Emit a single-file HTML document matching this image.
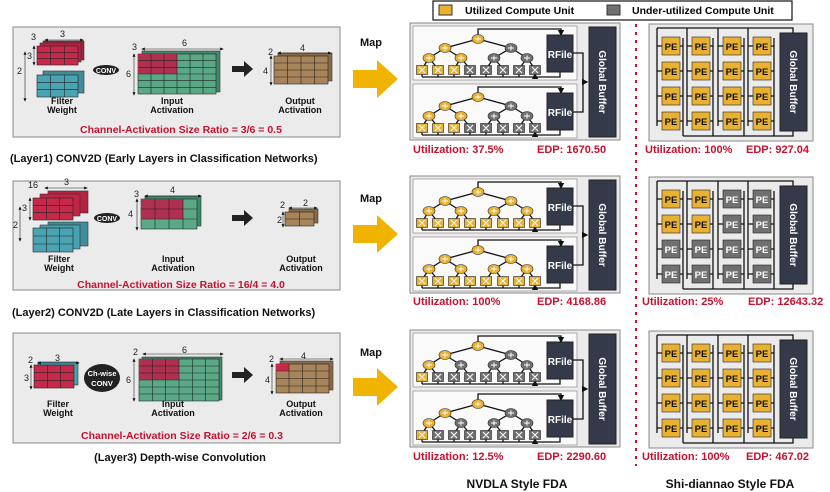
<!DOCTYPE html>
<html><head><meta charset="utf-8"><style>
html,body{margin:0;padding:0;background:#fff}
svg{display:block}
text{font-family:"Liberation Sans",sans-serif;font-weight:bold}
.lb{font-size:9px;fill:#111}
.dim{font-size:9px;fill:#222;font-weight:normal}
.red{font-size:10.5px;fill:#c41230}
.cap{font-size:11px;fill:#111}
.util{font-size:11px;fill:#c41230}
.gb{font-size:10px;fill:#fff}
.pe{font-size:9.5px;fill:#111}
.y{fill:#e9b132;stroke:#222;stroke-width:.6}
.g{fill:#707070;stroke:#222;stroke-width:.6}
.w{stroke:#111;stroke-width:1.3;fill:none}
.gr{stroke:#222;stroke-width:.6;fill:none}
</style></head><body>
<svg width="830" height="492" viewBox="0 0 830 492" xmlns="http://www.w3.org/2000/svg">
<defs>
<marker id="ah" markerWidth="5" markerHeight="5" refX="4" refY="2.5" orient="auto"><path d="M0,0L5,2.5L0,5z" fill="#111"/></marker>
<marker id="dh" markerWidth="6" markerHeight="6" refX="3" refY="3" orient="auto-start-reverse"><path d="M0,0.5L6,3L0,5.5z" fill="#111"/></marker>
<g id="tree">
 <rect x="0" y="0" width="164" height="54" fill="#fafafa" stroke="#999" stroke-width=".8"/>
 <path class="w" d="M65,13V3H148V9" marker-end="url(#ah)"/>
 <path class="w" d="M147,46V51H9"/>
 <g class="w" stroke-width="1">
  <path d="M9,51V48M25,51V48M41,51V48M57,51V48M73,51V48M90,51V48M106,51V48M122,51V48" marker-end="url(#ah)"/>
  <path d="M9,43L16,32M25,43L16,32M41,43L48,32M57,43L48,32M73,43L81,32M90,43L81,32M106,43L114,32M122,43L114,32"/>
  <path d="M16,32L32,22M48,32L32,22M81,32L98,22M114,32L98,22M32,22L65,13M98,22L65,13"/>
 </g>
 <rect x="134" y="9" width="26" height="37" fill="#353a4a" stroke="#222"/>
</g>
<g id="xs" stroke="#fff" stroke-width="1.1">
 <path d="M6,41L12,47M12,41L6,47M22,41L28,47M28,41L22,47M38,41L44,47M44,41L38,47M54,41L60,47M60,41L54,47M70,41L76,47M76,41L70,47M87,41L93,47M93,41L87,47M103,41L109,47M109,41L103,47M119,41L125,47M125,41L119,47"/>
</g>
<g id="pl" stroke="#fff" stroke-width="1">
 <path d="M13,32h6M16,29.5v5M45,32h6M48,29.5v5M78,32h6M81,29.5v5M111,32h6M114,29.5v5M29,22h6M32,19.5v5M95,22h6M98,19.5v5M62,13h6M65,10.5v5"/>
</g>
<g id="sd">
 <rect x="0" y="0" width="164" height="117" fill="#ebebeb" stroke="#888"/>
 <path class="w" d="M8,4H144V9M8,4V102M38,4V102M69,4V102M99,4V102"/>
 <path class="w" d="M34,14V112M64,14V112M95,14V112M125,14V112M34,112H144V107"/>
 <path class="w" d="M8,22h5M8,47h5M8,72h5M8,97h5M38,22h5M38,47h5M38,72h5M38,97h5M69,22h5M69,47h5M69,72h5M69,97h5M99,22h5M99,47h5M99,72h5M99,97h5"/>
 <path class="w" d="M31,22h3M31,47h3M31,72h3M31,97h3M61,22h3M61,47h3M61,72h3M61,97h3M92,22h3M92,47h3M92,72h3M92,97h3M122,22h3M122,47h3M122,72h3M122,97h3"/>
 <rect x="131" y="9" width="27" height="98" fill="#353a4a" stroke="#222"/>
</g>
</defs>

<!-- legend -->
<rect x="433" y="1" width="359" height="19" fill="#fff" stroke="#111" stroke-width="1.2"/>
<rect x="439" y="5" width="13" height="10" fill="#e9b132" stroke="#333"/>
<text x="465" y="14" style="font-size:10.5px">Utilized Compute Unit</text>
<rect x="607" y="5" width="13" height="10" fill="#707070" stroke="#333"/>
<text x="632" y="14" style="font-size:10.5px">Under-utilized Compute Unit</text>

<!-- red dotted divider -->
<line x1="636" y1="24" x2="636" y2="466" stroke="#c41230" stroke-width="2" stroke-dasharray="3,5"/>

<!-- ================= LEFT PANELS ================= -->
<!-- Layer1 -->
<rect x="13" y="27" width="327" height="110" fill="#ebebeb" stroke="#888"/>
<rect x="43" y="41" width="41" height="19" fill="#a81f3c" stroke="#333" stroke-width=".6"/>
<rect x="40" y="43" width="41" height="19" fill="#b82242" stroke="#333" stroke-width=".6"/>
<rect x="37" y="46" width="41" height="19" fill="#c8284a" stroke="#222" stroke-width=".6"/>
<path class="gr" d="M50.7,46V65M64.3,46V65M37,52.3H78M37,58.6H78"/>
<rect x="43" y="71" width="41" height="22" fill="#3f8c9a" stroke="#333" stroke-width=".6"/>
<rect x="37" y="75" width="41" height="22" fill="#4aa3b2" stroke="#222" stroke-width=".6"/>
<path class="gr" d="M50.7,75V97M64.3,75V97M37,82.3H78M37,89.6H78"/>
<text x="31" y="40" class="dim">3</text><text x="60" y="37" class="dim">3</text>
<path class="gr" d="M46,40H82" marker-start="url(#dh)" marker-end="url(#dh)"/>
<text x="27" y="59" class="dim">3</text>
<path class="gr" d="M34,47V64" marker-start="url(#dh)" marker-end="url(#dh)"/>
<text x="17" y="74" class="dim">2</text>
<path class="gr" d="M25,53V100" marker-start="url(#dh)" marker-end="url(#dh)"/>
<ellipse cx="106" cy="70" rx="13" ry="5" fill="#222"/>
<text x="106" y="73" text-anchor="middle" style="font-size:7px;fill:#fff">CONV</text>
<rect x="142" y="51" width="78" height="41" fill="#3c8a6a" stroke="#333" stroke-width=".6"/>
<rect x="138" y="54" width="78" height="40" fill="#5aa886" stroke="#222" stroke-width=".6"/>
<rect x="138" y="54" width="39" height="20" fill="#b03050"/>
<path class="gr" d="M151,54V94M164,54V94M177,54V94M190,54V94M203,54V94M138,60.7H216M138,67.3H216M138,74H216M138,80.7H216M138,87.3H216"/>
<text x="132" y="50" class="dim">3</text><text x="182" y="46" class="dim">6</text>
<path class="gr" d="M143,49H222" marker-start="url(#dh)" marker-end="url(#dh)"/>
<text x="126" y="77" class="dim">6</text>
<path class="gr" d="M134,55V94" marker-start="url(#dh)" marker-end="url(#dh)"/>
<path d="M232,66h12v-5l9,8l-9,8v-5h-12z" fill="#222"/>
<rect x="278" y="53" width="54" height="28" fill="#8a6a45" stroke="#333" stroke-width=".6"/>
<rect x="274" y="56" width="54" height="28" fill="#a7845a" stroke="#222" stroke-width=".6"/>
<path class="gr" d="M287.5,56V84M301,56V84M314.5,56V84M274,63H328M274,70H328M274,77H328"/>
<text x="268" y="55" class="dim">2</text><text x="300" y="51" class="dim">4</text>
<path class="gr" d="M279,53H330" marker-start="url(#dh)" marker-end="url(#dh)"/>
<text x="263" y="74" class="dim">4</text>
<path class="gr" d="M271,57V84" marker-start="url(#dh)" marker-end="url(#dh)"/>
<text x="62" y="104" class="lb" text-anchor="middle">Filter</text><text x="62" y="113" class="lb" text-anchor="middle">Weight</text>
<text x="172" y="104" class="lb" text-anchor="middle">Input</text><text x="172" y="113" class="lb" text-anchor="middle">Activation</text>
<text x="300" y="104" class="lb" text-anchor="middle">Output</text><text x="300" y="113" class="lb" text-anchor="middle">Activation</text>
<text x="181" y="133" class="red" text-anchor="middle">Channel-Activation Size Ratio = 3/6 =  0.5</text>
<text x="10" y="162" class="cap">(Layer1) CONV2D (Early Layers in Classification Networks)</text>

<!-- Layer2 -->
<rect x="13" y="181" width="327" height="109" fill="#ebebeb" stroke="#888"/>
<rect x="48" y="191" width="40" height="22" fill="#b82242" stroke="#333" stroke-width=".6"/>
<rect x="40" y="194" width="40" height="22" fill="#c02546" stroke="#333" stroke-width=".6"/>
<rect x="33" y="198" width="40" height="22" fill="#c8284a" stroke="#222" stroke-width=".6"/>
<path class="gr" d="M46.3,198V220M59.6,198V220M33,205.3H73M33,212.6H73"/>
<rect x="48" y="222" width="40" height="24" fill="#3f8c9a" stroke="#333" stroke-width=".6"/>
<rect x="40" y="225" width="40" height="24" fill="#46a0ae" stroke="#333" stroke-width=".6"/>
<rect x="33" y="228" width="40" height="24" fill="#4aa3b2" stroke="#222" stroke-width=".6"/>
<path class="gr" d="M46.3,228V252M59.6,228V252M33,236H73M33,244H73"/>
<text x="28" y="188" class="dim">16</text><text x="64" y="185" class="dim">3</text>
<path class="gr" d="M46,188H86" marker-start="url(#dh)" marker-end="url(#dh)"/>
<text x="22" y="211" class="dim">3</text>
<path class="gr" d="M30,199V219" marker-start="url(#dh)" marker-end="url(#dh)"/>
<text x="13" y="228" class="dim">2</text>
<path class="gr" d="M20,208V240" marker-start="url(#dh)" marker-end="url(#dh)"/>
<ellipse cx="107" cy="218" rx="13" ry="5" fill="#222"/>
<text x="107" y="221" text-anchor="middle" style="font-size:7px;fill:#fff">CONV</text>
<rect x="145" y="196" width="56" height="30" fill="#3c8a6a" stroke="#333" stroke-width=".6"/>
<rect x="141" y="199" width="56" height="30" fill="#5aa886" stroke="#222" stroke-width=".6"/>
<rect x="141" y="199" width="42" height="20" fill="#b03050"/>
<path class="gr" d="M155,199V229M169,199V229M183,199V229M141,209H197M141,219H197"/>
<text x="134" y="197" class="dim">3</text><text x="170" y="193" class="dim">4</text>
<path class="gr" d="M146,196H200" marker-start="url(#dh)" marker-end="url(#dh)"/>
<text x="128" y="217" class="dim">4</text>
<path class="gr" d="M137,200V229" marker-start="url(#dh)" marker-end="url(#dh)"/>
<path d="M232,215h12v-5l9,8l-9,8v-5h-12z" fill="#222"/>
<rect x="289" y="209" width="29" height="14" fill="#8a6a45" stroke="#333" stroke-width=".6"/>
<rect x="285" y="212" width="29" height="14" fill="#a7845a" stroke="#222" stroke-width=".6"/>
<path class="gr" d="M299.5,212V226M285,219H314"/>
<text x="280" y="208" class="dim">2</text><text x="303" y="206" class="dim">2</text>
<path class="gr" d="M290,208H316" marker-start="url(#dh)" marker-end="url(#dh)"/>
<text x="277" y="223" class="dim">2</text>
<path class="gr" d="M283,213V226" marker-start="url(#dh)" marker-end="url(#dh)"/>
<text x="59" y="262" class="lb" text-anchor="middle">Filter</text><text x="59" y="271" class="lb" text-anchor="middle">Weight</text>
<text x="173" y="262" class="lb" text-anchor="middle">Input</text><text x="173" y="271" class="lb" text-anchor="middle">Activation</text>
<text x="301" y="262" class="lb" text-anchor="middle">Output</text><text x="301" y="271" class="lb" text-anchor="middle">Activation</text>
<text x="181" y="288" class="red" text-anchor="middle">Channel-Activation Size Ratio = 16/4 = 4.0</text>
<text x="12" y="316" class="cap">(Layer2) CONV2D (Late Layers in Classification Networks)</text>

<!-- Layer3 -->
<rect x="13" y="333" width="327" height="110" fill="#ebebeb" stroke="#888"/>
<rect x="38" y="362" width="40" height="23" fill="#4aa3b2" stroke="#333" stroke-width=".6"/>
<rect x="34" y="365" width="40" height="23" fill="#c8284a" stroke="#222" stroke-width=".6"/>
<path class="gr" d="M47.3,365V388M60.6,365V388M34,372.6H74M34,380.3H74"/>
<text x="28" y="363" class="dim">2</text><text x="55" y="361" class="dim">3</text>
<path class="gr" d="M39,363H78" marker-start="url(#dh)" marker-end="url(#dh)"/>
<text x="24" y="381" class="dim">3</text>
<path class="gr" d="M31,366V388" marker-start="url(#dh)" marker-end="url(#dh)"/>
<ellipse cx="102" cy="378" rx="18" ry="14" fill="#222"/>
<text x="102" y="376" text-anchor="middle" style="font-size:7.5px;fill:#fff">Ch-wise</text>
<text x="102" y="386" text-anchor="middle" style="font-size:7.5px;fill:#fff">CONV</text>
<rect x="142" y="357" width="80" height="43" fill="#3c8a6a" stroke="#333" stroke-width=".6"/>
<rect x="139" y="359" width="80" height="42" fill="#5aa886" stroke="#222" stroke-width=".6"/>
<rect x="139" y="359" width="40" height="21" fill="#b03050"/>
<path class="gr" d="M152.3,359V401M165.6,359V401M179,359V401M192.3,359V401M205.6,359V401M139,366H219M139,373H219M139,380H219M139,387H219M139,394H219"/>
<text x="133" y="355" class="dim">2</text><text x="182" y="353" class="dim">6</text>
<path class="gr" d="M144,354H222" marker-start="url(#dh)" marker-end="url(#dh)"/>
<text x="126" y="383" class="dim">6</text>
<path class="gr" d="M134,360V400" marker-start="url(#dh)" marker-end="url(#dh)"/>
<path d="M232,372h12v-5l9,8l-9,8v-5h-12z" fill="#222"/>
<rect x="280" y="361" width="53" height="29" fill="#8a6a45" stroke="#333" stroke-width=".6"/>
<rect x="276" y="364" width="53" height="29" fill="#a7845a" stroke="#222" stroke-width=".6"/>
<rect x="276" y="364" width="13" height="7" fill="#c8284a"/>
<path class="gr" d="M289,364V393M302.5,364V393M316,364V393M276,371H329M276,378.5H329M276,386H329"/>
<text x="269" y="362" class="dim">2</text><text x="301" y="359" class="dim">4</text>
<path class="gr" d="M281,359H332" marker-start="url(#dh)" marker-end="url(#dh)"/>
<text x="265" y="383" class="dim">4</text>
<path class="gr" d="M272,365V393" marker-start="url(#dh)" marker-end="url(#dh)"/>
<text x="58" y="407" class="lb" text-anchor="middle">Filter</text><text x="58" y="416" class="lb" text-anchor="middle">Weight</text>
<text x="173" y="407" class="lb" text-anchor="middle">Input</text><text x="173" y="416" class="lb" text-anchor="middle">Activation</text>
<text x="301" y="407" class="lb" text-anchor="middle">Output</text><text x="301" y="416" class="lb" text-anchor="middle">Activation</text>
<text x="182" y="439" class="red" text-anchor="middle">Channel-Activation Size Ratio = 2/6 = 0.3</text>
<text x="180" y="461" class="cap" text-anchor="middle">(Layer3) Depth-wise Convolution</text>

<!-- Map arrows -->
<text x="360" y="46" class="cap">Map</text>
<text x="360" y="202" class="cap">Map</text>
<text x="360" y="356" class="cap">Map</text>
<path d="M353,70h24v-10l21,19l-21,19v-10h-24z" fill="#f0b400"/>
<path d="M353,225h24v-10l21,19l-21,19v-10h-24z" fill="#f0b400"/>
<path d="M353,378h24v-10l21,19l-21,19v-10h-24z" fill="#f0b400"/>

<!-- ================= NVDLA ================= -->
<g>
 <rect x="410" y="23" width="210" height="117" fill="#ebebeb" stroke="#888"/>
 <use href="#tree" x="413" y="26"/>
 <use href="#tree" x="413" y="84"/>
 <path class="w" d="M573,53H583V112H573M583,82H587" marker-end="url(#ah)"/>
 <rect x="589" y="27" width="27" height="110" fill="#353a4a" stroke="#222"/>
</g>
<g transform="translate(0,153)">
 <rect x="410" y="23" width="210" height="117" fill="#ebebeb" stroke="#888"/>
 <use href="#tree" x="413" y="26"/>
 <use href="#tree" x="413" y="84"/>
 <path class="w" d="M573,53H583V112H573M583,82H587" marker-end="url(#ah)"/>
 <rect x="589" y="27" width="27" height="110" fill="#353a4a" stroke="#222"/>
</g>
<g transform="translate(0,307)">
 <rect x="410" y="23" width="210" height="117" fill="#ebebeb" stroke="#888"/>
 <use href="#tree" x="413" y="26"/>
 <use href="#tree" x="413" y="84"/>
 <path class="w" d="M573,53H583V112H573M583,82H587" marker-end="url(#ah)"/>
 <rect x="589" y="27" width="27" height="110" fill="#353a4a" stroke="#222"/>
</g>
<text x="560" y="58" class="gb" text-anchor="middle">RFile</text>
<text x="560" y="116" class="gb" text-anchor="middle">RFile</text>
<text x="560" y="211" class="gb" text-anchor="middle">RFile</text>
<text x="560" y="269" class="gb" text-anchor="middle">RFile</text>
<text x="560" y="365" class="gb" text-anchor="middle">RFile</text>
<text x="560" y="423" class="gb" text-anchor="middle">RFile</text>
<text transform="translate(599,82) rotate(90)" class="gb" text-anchor="middle">Global Buffer</text>
<text transform="translate(599,235) rotate(90)" class="gb" text-anchor="middle">Global Buffer</text>
<text transform="translate(599,389) rotate(90)" class="gb" text-anchor="middle">Global Buffer</text>

<g transform="translate(413,26)">
 <rect class="y" x="3.5" y="39.5" width="11" height="9"/><rect class="y" x="19.5" y="39.5" width="11" height="9"/><rect class="y" x="35.5" y="39.5" width="11" height="9"/><rect class="g" x="51.5" y="39.5" width="11" height="9"/><rect class="g" x="67.5" y="39.5" width="11" height="9"/><rect class="g" x="84.5" y="39.5" width="11" height="9"/><rect class="g" x="100.5" y="39.5" width="11" height="9"/><rect class="g" x="116.5" y="39.5" width="11" height="9"/>
 <use href="#xs"/>
 <ellipse class="y" cx="16" cy="32" rx="6" ry="4.5"/><ellipse class="y" cx="48" cy="32" rx="6" ry="4.5"/><ellipse class="g" cx="81" cy="32" rx="6" ry="4.5"/><ellipse class="g" cx="114" cy="32" rx="6" ry="4.5"/>
 <ellipse class="y" cx="32" cy="22" rx="6" ry="4.5"/><ellipse class="g" cx="98" cy="22" rx="6" ry="4.5"/><ellipse class="y" cx="65" cy="13" rx="6" ry="4.5"/>
 <use href="#pl"/>
</g>
<g transform="translate(413,84)">
 <rect class="y" x="3.5" y="39.5" width="11" height="9"/><rect class="y" x="19.5" y="39.5" width="11" height="9"/><rect class="y" x="35.5" y="39.5" width="11" height="9"/><rect class="g" x="51.5" y="39.5" width="11" height="9"/><rect class="g" x="67.5" y="39.5" width="11" height="9"/><rect class="g" x="84.5" y="39.5" width="11" height="9"/><rect class="g" x="100.5" y="39.5" width="11" height="9"/><rect class="g" x="116.5" y="39.5" width="11" height="9"/>
 <use href="#xs"/>
 <ellipse class="y" cx="16" cy="32" rx="6" ry="4.5"/><ellipse class="y" cx="48" cy="32" rx="6" ry="4.5"/><ellipse class="g" cx="81" cy="32" rx="6" ry="4.5"/><ellipse class="g" cx="114" cy="32" rx="6" ry="4.5"/>
 <ellipse class="y" cx="32" cy="22" rx="6" ry="4.5"/><ellipse class="g" cx="98" cy="22" rx="6" ry="4.5"/><ellipse class="y" cx="65" cy="13" rx="6" ry="4.5"/>
 <use href="#pl"/>
</g>
<g transform="translate(413,179)">
 <rect class="y" x="3.5" y="39.5" width="11" height="9"/><rect class="y" x="19.5" y="39.5" width="11" height="9"/><rect class="y" x="35.5" y="39.5" width="11" height="9"/><rect class="y" x="51.5" y="39.5" width="11" height="9"/><rect class="y" x="67.5" y="39.5" width="11" height="9"/><rect class="y" x="84.5" y="39.5" width="11" height="9"/><rect class="y" x="100.5" y="39.5" width="11" height="9"/><rect class="y" x="116.5" y="39.5" width="11" height="9"/>
 <use href="#xs"/>
 <ellipse class="y" cx="16" cy="32" rx="6" ry="4.5"/><ellipse class="y" cx="48" cy="32" rx="6" ry="4.5"/><ellipse class="y" cx="81" cy="32" rx="6" ry="4.5"/><ellipse class="y" cx="114" cy="32" rx="6" ry="4.5"/>
 <ellipse class="y" cx="32" cy="22" rx="6" ry="4.5"/><ellipse class="y" cx="98" cy="22" rx="6" ry="4.5"/><ellipse class="y" cx="65" cy="13" rx="6" ry="4.5"/>
 <use href="#pl"/>
</g>
<g transform="translate(413,237)">
 <rect class="y" x="3.5" y="39.5" width="11" height="9"/><rect class="y" x="19.5" y="39.5" width="11" height="9"/><rect class="y" x="35.5" y="39.5" width="11" height="9"/><rect class="y" x="51.5" y="39.5" width="11" height="9"/><rect class="y" x="67.5" y="39.5" width="11" height="9"/><rect class="y" x="84.5" y="39.5" width="11" height="9"/><rect class="y" x="100.5" y="39.5" width="11" height="9"/><rect class="y" x="116.5" y="39.5" width="11" height="9"/>
 <use href="#xs"/>
 <ellipse class="y" cx="16" cy="32" rx="6" ry="4.5"/><ellipse class="y" cx="48" cy="32" rx="6" ry="4.5"/><ellipse class="y" cx="81" cy="32" rx="6" ry="4.5"/><ellipse class="y" cx="114" cy="32" rx="6" ry="4.5"/>
 <ellipse class="y" cx="32" cy="22" rx="6" ry="4.5"/><ellipse class="y" cx="98" cy="22" rx="6" ry="4.5"/><ellipse class="y" cx="65" cy="13" rx="6" ry="4.5"/>
 <use href="#pl"/>
</g>
<g transform="translate(413,333)">
 <rect class="y" x="3.5" y="39.5" width="11" height="9"/><rect class="g" x="19.5" y="39.5" width="11" height="9"/><rect class="g" x="35.5" y="39.5" width="11" height="9"/><rect class="g" x="51.5" y="39.5" width="11" height="9"/><rect class="g" x="67.5" y="39.5" width="11" height="9"/><rect class="g" x="84.5" y="39.5" width="11" height="9"/><rect class="g" x="100.5" y="39.5" width="11" height="9"/><rect class="g" x="116.5" y="39.5" width="11" height="9"/>
 <use href="#xs"/>
 <ellipse class="y" cx="16" cy="32" rx="6" ry="4.5"/><ellipse class="g" cx="48" cy="32" rx="6" ry="4.5"/><ellipse class="g" cx="81" cy="32" rx="6" ry="4.5"/><ellipse class="g" cx="114" cy="32" rx="6" ry="4.5"/>
 <ellipse class="y" cx="32" cy="22" rx="6" ry="4.5"/><ellipse class="g" cx="98" cy="22" rx="6" ry="4.5"/><ellipse class="y" cx="65" cy="13" rx="6" ry="4.5"/>
 <use href="#pl"/>
</g>
<g transform="translate(413,391)">
 <rect class="y" x="3.5" y="39.5" width="11" height="9"/><rect class="g" x="19.5" y="39.5" width="11" height="9"/><rect class="g" x="35.5" y="39.5" width="11" height="9"/><rect class="g" x="51.5" y="39.5" width="11" height="9"/><rect class="g" x="67.5" y="39.5" width="11" height="9"/><rect class="g" x="84.5" y="39.5" width="11" height="9"/><rect class="g" x="100.5" y="39.5" width="11" height="9"/><rect class="g" x="116.5" y="39.5" width="11" height="9"/>
 <use href="#xs"/>
 <ellipse class="y" cx="16" cy="32" rx="6" ry="4.5"/><ellipse class="g" cx="48" cy="32" rx="6" ry="4.5"/><ellipse class="g" cx="81" cy="32" rx="6" ry="4.5"/><ellipse class="g" cx="114" cy="32" rx="6" ry="4.5"/>
 <ellipse class="y" cx="32" cy="22" rx="6" ry="4.5"/><ellipse class="g" cx="98" cy="22" rx="6" ry="4.5"/><ellipse class="y" cx="65" cy="13" rx="6" ry="4.5"/>
 <use href="#pl"/>
</g>

<text x="413" y="153" class="util">Utilization: 37.5%</text><text x="537" y="153" class="util">EDP: 1670.50</text>
<text x="413" y="305" class="util">Utilization: 100%</text><text x="537" y="305" class="util">EDP: 4168.86</text>
<text x="413" y="460" class="util">Utilization: 12.5%</text><text x="537" y="460" class="util">EDP: 2290.60</text>

<!-- ================= Shi-diannao ================= -->
<use href="#sd" x="649" y="24"/>
<use href="#sd" x="649" y="177"/>
<use href="#sd" x="649" y="331"/>
<text transform="translate(790,82) rotate(90)" class="gb" text-anchor="middle">Global Buffer</text>
<text transform="translate(790,235) rotate(90)" class="gb" text-anchor="middle">Global Buffer</text>
<text transform="translate(790,389) rotate(90)" class="gb" text-anchor="middle">Global Buffer</text>

<g transform="translate(649,24)">
 <rect class="y" x="13" y="13" width="18" height="18"/><rect class="y" x="43" y="13" width="18" height="18"/><rect class="y" x="74" y="13" width="18" height="18"/><rect class="y" x="104" y="13" width="18" height="18"/>
 <rect class="y" x="13" y="38" width="18" height="18"/><rect class="y" x="43" y="38" width="18" height="18"/><rect class="y" x="74" y="38" width="18" height="18"/><rect class="y" x="104" y="38" width="18" height="18"/>
 <rect class="y" x="13" y="63" width="18" height="18"/><rect class="y" x="43" y="63" width="18" height="18"/><rect class="y" x="74" y="63" width="18" height="18"/><rect class="y" x="104" y="63" width="18" height="18"/>
 <rect class="y" x="13" y="88" width="18" height="18"/><rect class="y" x="43" y="88" width="18" height="18"/><rect class="y" x="74" y="88" width="18" height="18"/><rect class="y" x="104" y="88" width="18" height="18"/>
 <g class="pe" text-anchor="middle">
 <text x="22" y="26">PE</text><text x="52" y="26">PE</text><text x="83" y="26">PE</text><text x="113" y="26">PE</text>
 <text x="22" y="51">PE</text><text x="52" y="51">PE</text><text x="83" y="51">PE</text><text x="113" y="51">PE</text>
 <text x="22" y="76">PE</text><text x="52" y="76">PE</text><text x="83" y="76">PE</text><text x="113" y="76">PE</text>
 <text x="22" y="101">PE</text><text x="52" y="101">PE</text><text x="83" y="101">PE</text><text x="113" y="101">PE</text>
 </g>
</g>
<g transform="translate(649,177)">
 <rect class="y" x="13" y="13" width="18" height="18"/><rect class="y" x="43" y="13" width="18" height="18"/><rect class="g" x="74" y="13" width="18" height="18"/><rect class="g" x="104" y="13" width="18" height="18"/>
 <rect class="y" x="13" y="38" width="18" height="18"/><rect class="y" x="43" y="38" width="18" height="18"/><rect class="g" x="74" y="38" width="18" height="18"/><rect class="g" x="104" y="38" width="18" height="18"/>
 <rect class="g" x="13" y="63" width="18" height="18"/><rect class="g" x="43" y="63" width="18" height="18"/><rect class="g" x="74" y="63" width="18" height="18"/><rect class="g" x="104" y="63" width="18" height="18"/>
 <rect class="g" x="13" y="88" width="18" height="18"/><rect class="g" x="43" y="88" width="18" height="18"/><rect class="g" x="74" y="88" width="18" height="18"/><rect class="g" x="104" y="88" width="18" height="18"/>
 <g class="pe" text-anchor="middle">
 <text x="22" y="26">PE</text><text x="52" y="26">PE</text><text x="83" y="26" fill="#fff">PE</text><text x="113" y="26" fill="#fff">PE</text>
 <text x="22" y="51">PE</text><text x="52" y="51">PE</text><text x="83" y="51" fill="#fff">PE</text><text x="113" y="51" fill="#fff">PE</text>
 <text x="22" y="76" fill="#fff">PE</text><text x="52" y="76" fill="#fff">PE</text><text x="83" y="76" fill="#fff">PE</text><text x="113" y="76" fill="#fff">PE</text>
 <text x="22" y="101" fill="#fff">PE</text><text x="52" y="101" fill="#fff">PE</text><text x="83" y="101" fill="#fff">PE</text><text x="113" y="101" fill="#fff">PE</text>
 </g>
</g>
<g transform="translate(649,331)">
 <rect class="y" x="13" y="13" width="18" height="18"/><rect class="y" x="43" y="13" width="18" height="18"/><rect class="y" x="74" y="13" width="18" height="18"/><rect class="y" x="104" y="13" width="18" height="18"/>
 <rect class="y" x="13" y="38" width="18" height="18"/><rect class="y" x="43" y="38" width="18" height="18"/><rect class="y" x="74" y="38" width="18" height="18"/><rect class="y" x="104" y="38" width="18" height="18"/>
 <rect class="y" x="13" y="63" width="18" height="18"/><rect class="y" x="43" y="63" width="18" height="18"/><rect class="y" x="74" y="63" width="18" height="18"/><rect class="y" x="104" y="63" width="18" height="18"/>
 <rect class="y" x="13" y="88" width="18" height="18"/><rect class="y" x="43" y="88" width="18" height="18"/><rect class="y" x="74" y="88" width="18" height="18"/><rect class="y" x="104" y="88" width="18" height="18"/>
 <g class="pe" text-anchor="middle">
 <text x="22" y="26">PE</text><text x="52" y="26">PE</text><text x="83" y="26">PE</text><text x="113" y="26">PE</text>
 <text x="22" y="51">PE</text><text x="52" y="51">PE</text><text x="83" y="51">PE</text><text x="113" y="51">PE</text>
 <text x="22" y="76">PE</text><text x="52" y="76">PE</text><text x="83" y="76">PE</text><text x="113" y="76">PE</text>
 <text x="22" y="101">PE</text><text x="52" y="101">PE</text><text x="83" y="101">PE</text><text x="113" y="101">PE</text>
 </g>
</g>

<text x="645" y="153" class="util">Utilization: 100%</text><text x="746" y="153" class="util">EDP: 927.04</text>
<text x="642" y="305" class="util">Utilization: 25%</text><text x="748" y="305" class="util">EDP: 12643.32</text>
<text x="642" y="460" class="util">Utilization: 100%</text><text x="746" y="460" class="util">EDP: 467.02</text>

<text x="517" y="488" class="cap" text-anchor="middle" style="font-size:12px">NVDLA Style FDA</text>
<text x="730" y="488" class="cap" text-anchor="middle" style="font-size:12px">Shi-diannao Style FDA</text>
</svg>
</body></html>
